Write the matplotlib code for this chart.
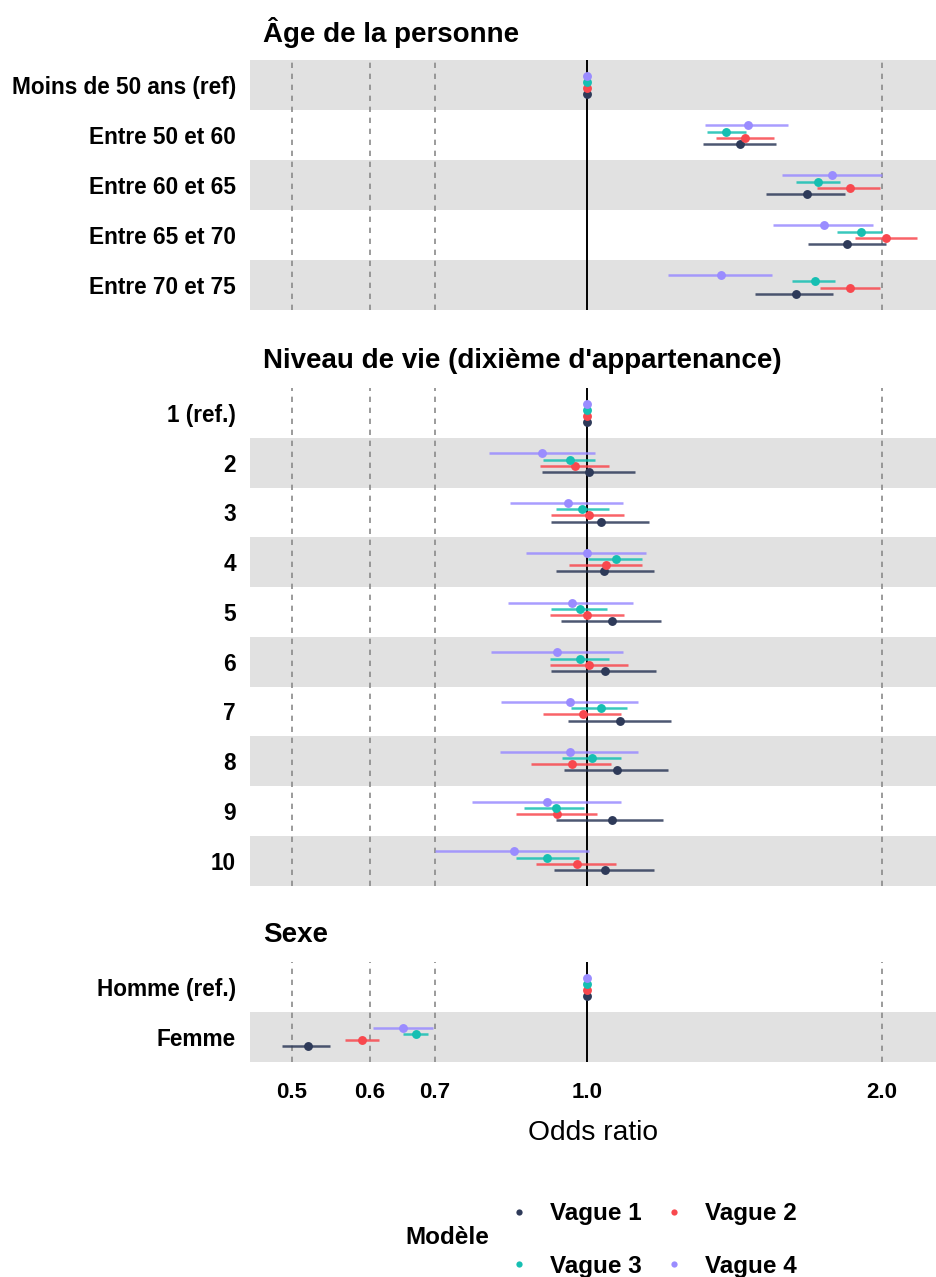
import numpy as np
import matplotlib
matplotlib.use("Agg")
import matplotlib.pyplot as plt
from matplotlib.lines import Line2D

plt.rcParams['font.family'] = ['Liberation Sans', 'DejaVu Sans']

# --- données : odds ratios et intervalles de confiance par vague ---
vagues = ["Vague 1", "Vague 2", "Vague 3", "Vague 4"]
couleurs = ["#2e3a59", "#f8484e", "#16bfb2", "#9a8cff"]

age_cats = ["Moins de 50 ans (ref)", "Entre 50 et 60", "Entre 60 et 65",
            "Entre 65 et 70", "Entre 70 et 75"]
age_est = [[1, 1.434, 1.676, 1.841, 1.634],
           [1, 1.451, 1.855, 2.019, 1.855],
           [1, 1.386, 1.722, 1.902, 1.709],
           [1, 1.459, 1.780, 1.745, 1.370]]
age_lo = [[1, 1.314, 1.523, 1.680, 1.486],
          [1, 1.353, 1.716, 1.877, 1.729],
          [1, 1.325, 1.633, 1.801, 1.620],
          [1, 1.320, 1.580, 1.547, 1.210]]
age_hi = [[1, 1.559, 1.835, 2.017, 1.784],
          [1, 1.552, 1.990, 2.170, 1.990],
          [1, 1.453, 1.812, 2.000, 1.791],
          [1, 1.605, 2.000, 1.960, 1.546]]

nv_cats = ["1 (ref.)", "2", "3", "4", "5", "6", "7", "8", "9", "10"]
nv_est = [[1, 1.005, 1.033, 1.041, 1.060, 1.043, 1.081, 1.074, 1.060, 1.043],
          [1, 0.972, 1.005, 1.047, 1.001, 1.005, 0.991, 0.965, 0.933, 0.976],
          [1, 0.961, 0.989, 1.070, 0.984, 0.984, 1.033, 1.013, 0.929, 0.910],
          [1, 0.900, 0.957, 1.001, 0.965, 0.933, 0.961, 0.961, 0.911, 0.843]]
nv_lo = [[1, 0.899, 0.920, 0.929, 0.940, 0.920, 0.956, 0.947, 0.931, 0.925],
         [1, 0.896, 0.920, 0.959, 0.917, 0.917, 0.902, 0.877, 0.846, 0.888],
         [1, 0.902, 0.929, 1.003, 0.920, 0.917, 0.963, 0.944, 0.862, 0.846],
         [1, 0.794, 0.835, 0.866, 0.831, 0.798, 0.818, 0.815, 0.763, 0.700]]
nv_hi = [[1, 1.119, 1.157, 1.171, 1.190, 1.176, 1.218, 1.211, 1.195, 1.171],
         [1, 1.053, 1.092, 1.137, 1.092, 1.102, 1.083, 1.057, 1.023, 1.070],
         [1, 1.019, 1.053, 1.137, 1.049, 1.053, 1.100, 1.083, 0.994, 0.982],
         [1, 1.019, 1.088, 1.148, 1.115, 1.088, 1.128, 1.128, 1.083, 1.005]]

sexe_cats = ["Homme (ref.)", "Femme"]
sexe_est = [[1, 0.519], [1, 0.590], [1, 0.670], [1, 0.649]]
sexe_lo = [[1, 0.489], [1, 0.566], [1, 0.649], [1, 0.605]]
sexe_hi = [[1, 0.547], [1, 0.613], [1, 0.689], [1, 0.696]]

x_ticks = [0.5, 0.6, 0.7, 1.0, 2.0]
x_labels = ["0.5", "0.6", "0.7", "1.0", "2.0"]

# --- mise en page (pixels) ---
W, H = 936, 1277
fig = plt.figure(figsize=(W / 100, H / 100), dpi=100)


def rect(left, top, right, bottom):
    return [left / W, 1 - bottom / H, (right - left) / W, (bottom - top) / H]


decalages = [0.1875, 0.0625, -0.0625, -0.1875]


def panneau(r, titre, cats, est, lo, hi, bas=False):
    ax = fig.add_axes(r)
    n = len(cats)
    for i in range(n):
        if i % 2 == (1 if n in (10, 2) else 0):
            ax.axhspan(i - 0.5, i + 0.5, color="#e1e1e1", lw=0, zorder=0)
    for xv in [0.5, 0.6, 0.7, 2.0]:
        ax.axvline(xv, color="#8a8a8a", lw=1.2, dashes=(3.2, 3.4), zorder=1)
    ax.axvline(1.0, color="black", lw=1.4, zorder=2)
    y = np.arange(n)
    for k in range(4):
        yy = y + decalages[k]
        ax.hlines(yy, lo[k], hi[k], color=couleurs[k], lw=1.8, alpha=0.85, zorder=3)
        ax.plot(est[k], yy, "o", color=couleurs[k], ms=6.4, mec="none", zorder=4)
    ax.set_xscale("log")
    ax.set_xlim(0.4531, 2.271)
    ax.set_ylim(n - 0.5, -0.5)
    ax.set_yticks(y)
    ax.set_yticklabels(cats, fontsize=16.3, fontweight="bold")
    ax.tick_params(axis="y", length=0, pad=10)
    ax.set_xticks(x_ticks)
    ax.minorticks_off()
    if bas:
        ax.set_xticklabels(x_labels, fontsize=16, fontweight="bold")
        ax.tick_params(axis="x", length=0, pad=14.5)
        ax.set_xlabel("Odds ratio", fontsize=20.3, labelpad=12)
    else:
        ax.set_xticklabels([])
        ax.tick_params(axis="x", length=0)
    for s in ax.spines.values():
        s.set_visible(False)
    x0, y0, w, h = r
    fig.text(263 / W, y0 + h + 27 / H, titre, fontsize=20, fontweight="bold",
             ha="left", va="center")
    return ax


panneau(rect(250, 60, 936, 309.5), "Âge de la personne", age_cats, age_est, age_lo, age_hi)
panneau(rect(250, 388, 936, 885.5), "Niveau de vie (dixième d'appartenance)",
        nv_cats, nv_est, nv_lo, nv_hi)
panneau(rect(250, 962, 936, 1062), "Sexe", sexe_cats, sexe_est, sexe_lo, sexe_hi, bas=True)

# --- légende ---
poignees = [Line2D([], [], ls="none", marker="o", ms=4.5, mec="none", color=couleurs[k])
            for k in [0, 2, 1, 3]]
libelles = [vagues[k] for k in [0, 2, 1, 3]]
fig.legend(poignees, libelles, ncol=2, loc="center left",
           bbox_to_anchor=(495 / W, 1 - 1240 / H), frameon=False,
           prop={"size": 17.5, "weight": "bold"}, handletextpad=0.68,
           columnspacing=0.72, labelspacing=1.2, handlelength=1.2,
           borderaxespad=0)
fig.text(405 / W, 1 - 1238 / H, "Modèle", fontsize=17.5, fontweight="bold",
         ha="left", va="center")

fig.savefig("out.png", dpi=100)
